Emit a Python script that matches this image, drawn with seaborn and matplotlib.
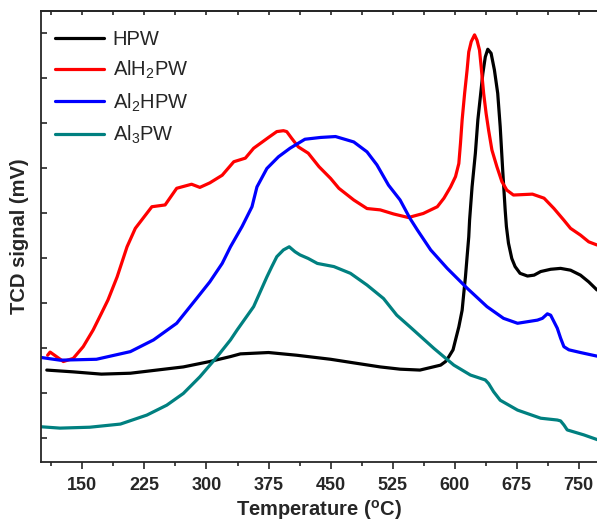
import numpy as np
import pandas as pd
import matplotlib
matplotlib.use('Agg')
import matplotlib.pyplot as plt
import seaborn as sns
from matplotlib.ticker import MultipleLocator

# TPR curves (temperature in C, signal in arbitrary units)
hpw_t = [107, 139, 173, 208, 240, 272, 304, 329, 341, 375, 409, 450, 478, 510, 534, 558,
         583, 589, 593, 598, 601, 605, 609, 611, 613, 615, 617, 618, 621, 625, 628, 631,
         634, 637, 640, 644, 648, 652, 655, 658, 661, 662.5, 665, 669, 673, 679, 688, 696,
         704, 716, 728, 740, 752, 762, 772]
hpw_y = [1.51, 1.47, 1.42, 1.44, 1.51, 1.58, 1.70, 1.81, 1.87, 1.90, 1.84, 1.75, 1.67, 1.58,
         1.53, 1.51, 1.62, 1.70, 1.81, 1.96, 2.18, 2.47, 2.84, 3.22, 3.58, 4.03, 4.47, 4.84,
         5.58, 6.33, 7.07, 7.58, 8.10, 8.47, 8.64, 8.55, 8.18, 7.66, 6.92, 5.96, 5.07, 4.70,
         4.33, 3.99, 3.81, 3.66, 3.60, 3.62, 3.70, 3.75, 3.77, 3.73, 3.62, 3.47, 3.29]

alh2pw_t = [108, 111, 127, 139, 151, 163, 173, 181, 192, 204, 214, 234, 250, 264, 282, 292,
            304, 319, 333, 347, 357, 375, 385, 393, 397, 403, 411, 423, 436, 450, 460, 478,
            494, 510, 526, 544, 562, 579, 587, 595, 601, 605, 607, 609, 612, 615, 617, 620,
            624, 627, 630, 632, 635, 638, 641, 645, 651, 657, 663, 671, 694, 708, 720, 732,
            740, 752, 762, 772]
alh2pw_y = [1.84, 1.91, 1.70, 1.77, 2.03, 2.40, 2.77, 3.07, 3.58, 4.25, 4.66, 5.14, 5.18,
            5.55, 5.64, 5.57, 5.67, 5.84, 6.14, 6.22, 6.44, 6.68, 6.81, 6.83, 6.81, 6.66,
            6.47, 6.33, 6.03, 5.77, 5.55, 5.29, 5.10, 5.07, 4.98, 4.90, 4.99, 5.14, 5.33,
            5.58, 5.81, 6.10, 6.55, 7.07, 7.66, 8.18, 8.58, 8.81, 8.96, 8.84, 8.62, 8.25,
            7.66, 7.21, 6.84, 6.40, 6.03, 5.70, 5.51, 5.40, 5.42, 5.33, 5.10, 4.84, 4.66,
            4.51, 4.36, 4.29]

al2hpw_t = [100, 123, 167, 208, 236, 264, 288, 304, 319, 329, 343, 355, 361, 373, 387, 401,
            419, 438, 456, 478, 494, 506, 520, 534, 546, 555, 571, 591, 615, 639, 659, 676,
            700, 706, 712, 716, 724, 728, 732, 738, 752, 772]
al2hpw_y = [1.79, 1.73, 1.75, 1.92, 2.18, 2.55, 3.10, 3.47, 3.88, 4.25, 4.70, 5.14, 5.58,
            5.99, 6.25, 6.44, 6.64, 6.68, 6.70, 6.58, 6.36, 6.07, 5.62, 5.29, 4.88, 4.62,
            4.18, 3.77, 3.33, 2.92, 2.66, 2.55, 2.62, 2.66, 2.76, 2.73, 2.44, 2.22, 2.03,
            1.96, 1.90, 1.82]

al3pw_t = [100, 123, 159, 196, 228, 252, 272, 292, 313, 329, 337, 357, 373, 379, 385, 393,
           400, 407, 413, 423, 434, 454, 474, 494, 514, 530, 546, 575, 599, 619, 637, 641,
           647, 655, 676, 704, 724, 728, 732, 736, 756, 773]
al3pw_y = [0.25, 0.22, 0.24, 0.31, 0.51, 0.73, 0.99, 1.36, 1.81, 2.18, 2.40, 2.92, 3.58,
           3.81, 4.03, 4.18, 4.25, 4.14, 4.07, 3.99, 3.88, 3.81, 3.66, 3.40, 3.10, 2.73,
           2.47, 1.99, 1.62, 1.40, 1.29, 1.21, 1.03, 0.84, 0.62, 0.44, 0.40, 0.38, 0.29,
           0.18, 0.07, -0.04]

labels = ['HPW', r'AlH$_\mathrm{2}$PW', r'Al$_\mathrm{2}$HPW', r'Al$_\mathrm{3}$PW']
colors = ['#000000', '#ff0000', '#0000ff', '#008080']

frames = []
for lab, t, y in zip(labels, [hpw_t, alh2pw_t, al2hpw_t, al3pw_t],
                     [hpw_y, alh2pw_y, al2hpw_y, al3pw_y]):
    frames.append(pd.DataFrame({'T': t, 'signal': y, 'sample': lab}))
data = pd.concat(frames, ignore_index=True)

sns.set_style('ticks')
plt.rcParams['font.family'] = ['Liberation Sans', 'DejaVu Sans']
plt.rcParams['mathtext.fontset'] = 'custom'
plt.rcParams['mathtext.rm'] = 'Liberation Sans'
plt.rcParams['mathtext.bf'] = 'Liberation Sans:bold'

fig = plt.figure(figsize=(5.97, 5.23), dpi=100)
ax = fig.add_axes([41 / 597, 1 - 462 / 523, 556 / 597, 451 / 523])

sns.lineplot(data=data, x='T', y='signal', hue='sample', palette=dict(zip(labels, colors)),
             sort=False, estimator=None, linewidth=2.3, ax=ax)
for line in ax.get_lines():
    line.set_solid_joinstyle('round')

ax.set_xlim(100, 772)
ax.set_ylim(-0.533, 9.49)
ax.set_xticks([150, 225, 300, 375, 450, 525, 600, 675, 750])
ax.xaxis.set_minor_locator(MultipleLocator(37.5))
ax.yaxis.set_major_locator(MultipleLocator(1))
ax.set_yticklabels([])
ax.tick_params(axis='x', which='major', direction='out', length=5, width=1.2,
               labelsize=13, pad=6)
ax.tick_params(axis='x', which='minor', direction='out', length=3, width=1.2)
ax.tick_params(axis='y', which='major', direction='in', length=4, width=1.2)
for lbl in ax.get_xticklabels():
    lbl.set_fontweight('bold')
for side in ['left', 'bottom', 'top']:
    ax.spines[side].set_linewidth(1.3)
ax.spines['right'].set_visible(False)

# inward ticks along the top edge
top = ax.secondary_xaxis('top')
top.set_xticks([150, 225, 300, 375, 450, 525, 600, 675, 750])
top.xaxis.set_minor_locator(MultipleLocator(37.5))
top.tick_params(which='both', direction='in', length=3, width=1.2, labeltop=False)
top.spines['top'].set_linewidth(1.3)

ax.set_xlabel(r'Temperature ($^{\mathbf{o}}$C)', fontsize=14.5, fontweight='bold', labelpad=3)
ax.set_ylabel('TCD signal (mV)', fontsize=14.5, fontweight='bold', labelpad=5)

ax.legend(frameon=False, loc='upper left', bbox_to_anchor=(0.011, 0.976), fontsize=14.5,
          handlelength=2.4, handletextpad=0.45, labelspacing=0.5, borderaxespad=0)

fig.savefig('out.png', dpi=100)
